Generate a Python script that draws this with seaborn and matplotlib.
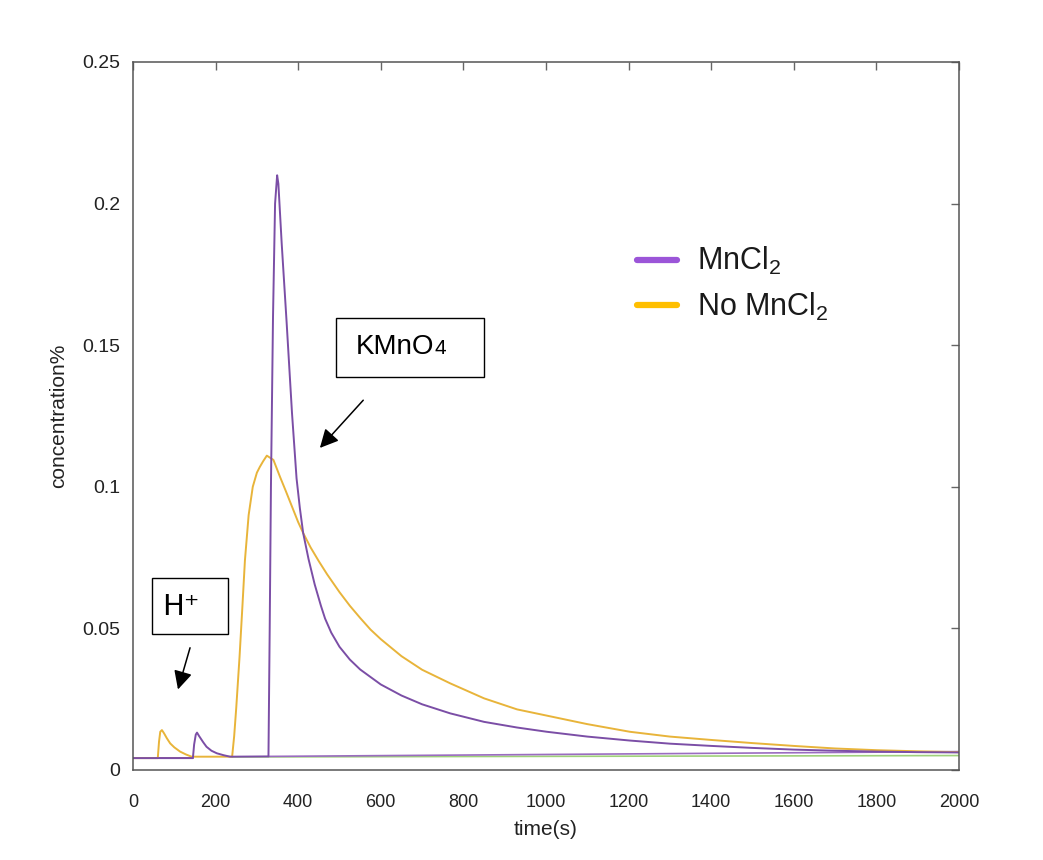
import matplotlib
matplotlib.use("Agg")
import matplotlib.pyplot as plt
import pandas as pd
import seaborn as sns
from matplotlib.lines import Line2D
from matplotlib.patches import Rectangle
from matplotlib.offsetbox import AnchoredOffsetbox, HPacker, TextArea

# ── data ──────────────────────────────────────────────────────────
mn_t = [0, 145, 148, 152, 155, 160, 170, 178, 190, 203, 220, 235, 328, 331, 334,
        339, 344, 349, 352, 360, 372, 385, 396, 404, 412, 425, 440, 455, 465, 480,
        500, 525, 550, 600, 650, 700, 768, 850, 930, 1002, 1100, 1203, 1300, 1401,
        1500, 1600, 1700, 1800, 1900, 2000]
mn_c = [0.0042, 0.0042, 0.0090, 0.0125, 0.0132, 0.0120, 0.0098, 0.0082, 0.0068,
        0.0059, 0.0052, 0.0047, 0.0048, 0.050, 0.100, 0.160, 0.200, 0.210, 0.207,
        0.186, 0.158, 0.126, 0.103, 0.0925, 0.0837, 0.0745, 0.0655, 0.0580, 0.0535,
        0.0485, 0.0435, 0.0390, 0.0355, 0.0302, 0.0263, 0.0232, 0.0200, 0.0170,
        0.0150, 0.0135, 0.0118, 0.0104, 0.0093, 0.0085, 0.0078, 0.0072, 0.0068,
        0.0065, 0.0063, 0.0062]

no_t = [0, 60, 63, 66, 70, 75, 82, 90, 100, 114, 128, 142, 190, 240, 245, 250, 258,
        265, 271, 280, 290, 300, 307, 315, 324, 340, 356, 370, 385, 400, 412, 430,
        450, 470, 500, 525, 550, 575, 600, 650, 700, 768, 850, 930, 1002, 1100, 1203,
        1300, 1401, 1500, 1600, 1700, 1800, 1900, 2000]
no_c = [0.0042, 0.0042, 0.0100, 0.0135, 0.0141, 0.0130, 0.0112, 0.0094, 0.0080,
        0.0065, 0.0055, 0.0047, 0.0047, 0.0047, 0.012, 0.022, 0.040, 0.058, 0.074,
        0.090, 0.100, 0.105, 0.107, 0.109, 0.111, 0.1095, 0.1035, 0.0985, 0.0930,
        0.0875, 0.0837, 0.0786, 0.0737, 0.0691, 0.0628, 0.0580, 0.0537, 0.0496,
        0.0462, 0.0402, 0.0354, 0.0306, 0.0253, 0.0214, 0.0192, 0.0162, 0.0135,
        0.0118, 0.0106, 0.0095, 0.0085, 0.0076, 0.0070, 0.0066, 0.0063]

# faint baseline traces near the bottom
base_purple_t = [328, 2000]
base_purple_c = [0.0048, 0.0065]
base_green_t = [240, 2000]
base_green_c = [0.0046, 0.0051]
base_red_t = [0, 145]
base_red_c = [0.0044, 0.0044]

x_ticks = list(range(0, 2001, 200))
y_ticks = [0, 0.05, 0.1, 0.15, 0.2, 0.25]
y_tick_labels = ["0", "0.05", "0.1", "0.15", "0.2", "0.25"]

COR = {"mn": "#7b4ea6", "no": "#e8b43a", "mn_leg": "#9b55d8", "no_leg": "#ffbf00",
       "verde": "#9fd07a", "verm": "#b05a6a", "mn_base": "#9a6cc0"}

sns.set_theme(style="white")
plt.rcParams["font.family"] = ["Liberation Sans", "DejaVu Sans"]
plt.rcParams["mathtext.fontset"] = "custom"
plt.rcParams["mathtext.rm"] = "Liberation Sans"
plt.rcParams["mathtext.it"] = "Liberation Sans"

fig = plt.figure(figsize=(10.43, 8.6), dpi=100)
ax = fig.add_axes([133 / 1043, 1 - 770 / 860, 826 / 1043, 708 / 860])


def linha(t, c, cor, lw):
    sns.lineplot(data=pd.DataFrame({"t": t, "c": c}), x="t", y="c", ax=ax,
                 color=cor, lw=lw, sort=False, estimator=None)


linha(base_red_t, base_red_c, COR["verm"], 1.2)
linha(base_green_t, base_green_c, COR["verde"], 1.2)
linha(base_purple_t, base_purple_c, COR["mn_base"], 1.2)
linha(no_t, no_c, COR["no"], 1.4)
linha(mn_t, mn_c, COR["mn"], 1.4)

ax.set_xlim(0, 2000)
ax.set_ylim(0, 0.25)
ax.set_xticks(x_ticks)
ax.set_yticks(y_ticks)
ax.set_yticklabels(y_tick_labels)
ax.tick_params(direction="in", length=6, width=1, colors="#666666",
               labelcolor="#222222", top=True, right=True)
ax.tick_params(axis="y", labelsize=14, pad=9)
ax.tick_params(axis="x", labelsize=13, pad=17)
for sp in ax.spines.values():
    sp.set_color("#555555")
    sp.set_linewidth(1.1)

ax.set_xlabel("time(s)", fontsize=15, color="#222222", labelpad=7)
ax.set_ylabel("concentration%", fontsize=15, color="#222222", labelpad=10)

# legenda
handles = [Line2D([], [], color=COR["mn_leg"], lw=4.5),
           Line2D([], [], color=COR["no_leg"], lw=4.5)]
leg = ax.legend(handles, [r"MnCl$_2$", r"No MnCl$_2$"], loc="upper left",
                bbox_to_anchor=(0.577, 0.78), frameon=False, fontsize=22,
                handlelength=1.3, handletextpad=0.65, labelspacing=0.45)
for txt in leg.get_texts():
    txt.set_color("#1a1a1a")

# caixas de anotação (KMnO4 e H+)
ax.add_patch(Rectangle((491, 0.1388), 359, 0.0208, fill=False, ec="black", lw=1.0,
                       zorder=5))
kmno = HPacker(children=[TextArea("KMnO", textprops=dict(size=20, color="black")),
                         TextArea("4", textprops=dict(size=15, color="black"))],
               align="baseline", pad=0, sep=0)
ax.add_artist(AnchoredOffsetbox(loc="center left", child=kmno, frameon=False,
                                bbox_to_anchor=(540, 0.1492),
                                bbox_transform=ax.transData, pad=0, borderpad=0))

ax.add_patch(Rectangle((46, 0.0480), 184, 0.0198, fill=False, ec="black", lw=1.0,
                       zorder=5))
ax.text(116, 0.0575, "H\u207a", fontsize=21, ha="center", va="center", color="black",
        family=["DejaVu Sans"])

ax.annotate("", xy=(448, 0.113), xytext=(562, 0.1313),
            arrowprops=dict(arrowstyle="-|>", mutation_scale=28, lw=1.1, color="black"))
ax.annotate("", xy=(107, 0.0275), xytext=(140, 0.0441),
            arrowprops=dict(arrowstyle="-|>", mutation_scale=28, lw=1.1, color="black"))

fig.savefig("out.png", dpi=100, facecolor="white")
